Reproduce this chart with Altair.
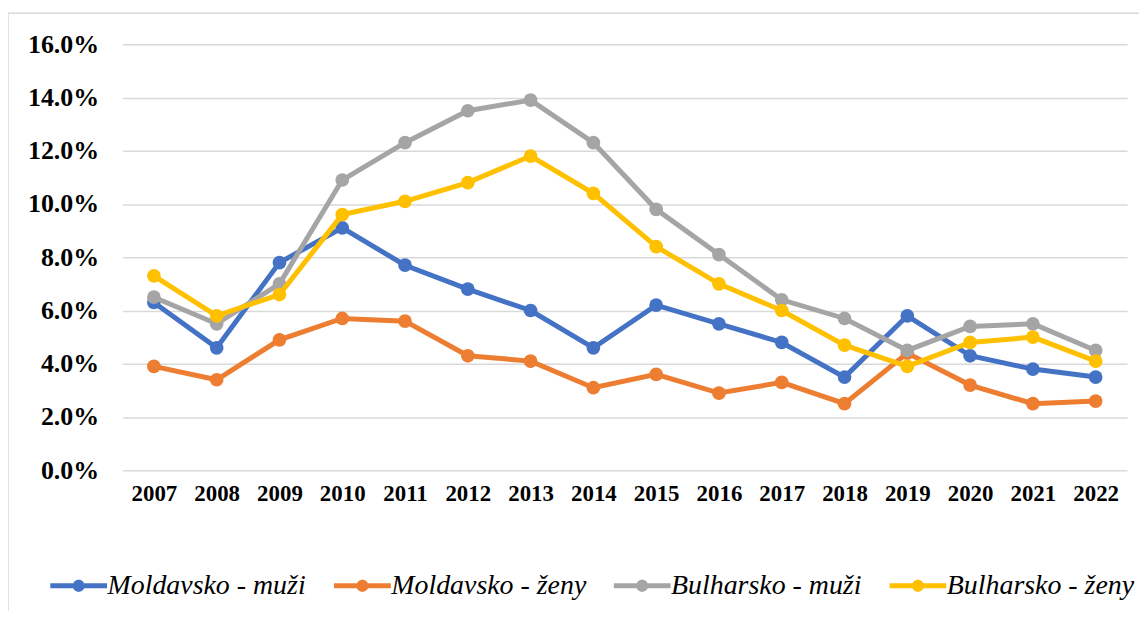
import altair as alt
import pandas as pd

years = [str(y) for y in range(2007, 2023)]
series_names = ["Moldavsko - muži", "Moldavsko - ženy", "Bulharsko - muži", "Bulharsko - ženy"]
colors = ["#4472C4", "#ED7D31", "#A5A5A5", "#FFC000"]

moldavsko_muzi = [6.3, 4.6, 7.8, 9.1, 7.7, 6.8, 6.0, 4.6, 6.2, 5.5, 4.8, 3.5, 5.8, 4.3, 3.8, 3.5]
moldavsko_zeny = [3.9, 3.4, 4.9, 5.7, 5.6, 4.3, 4.1, 3.1, 3.6, 2.9, 3.3, 2.5, 4.4, 3.2, 2.5, 2.6]
bulharsko_muzi = [6.5, 5.5, 7.0, 10.9, 12.3, 13.5, 13.9, 12.3, 9.8, 8.1, 6.4, 5.7, 4.5, 5.4, 5.5, 4.5]
bulharsko_zeny = [7.3, 5.8, 6.6, 9.6, 10.1, 10.8, 11.8, 10.4, 8.4, 7.0, 6.0, 4.7, 3.9, 4.8, 5.0, 4.1]

all_values = [moldavsko_muzi, moldavsko_zeny, bulharsko_muzi, bulharsko_zeny]
rows = []
for name, vals in zip(series_names, all_values):
    for y, v in zip(years, vals):
        rows.append({"year": y, "value": v, "series": name})
df = pd.DataFrame(rows)

FONT = "'Liberation Serif', 'Times New Roman', Times, serif"

color_scale = alt.Scale(domain=series_names, range=colors)
x_enc = alt.X("year:O", scale=alt.Scale(padding=0.5), title=None,
              axis=alt.Axis(labelAngle=0, domain=False, ticks=False, grid=False,
                            labelFont=FONT, labelFontWeight="bold",
                            labelFontSize=23, labelColor="#000000", labelPadding=12))
y_enc = alt.Y("value:Q", scale=alt.Scale(domain=[0, 16]), title=None,
              axis=alt.Axis(values=[0, 2, 4, 6, 8, 10, 12, 14, 16],
                            labelExpr="format(datum.value, '.1f') + '%'",
                            domain=False, ticks=False, grid=True,
                            gridColor="#D9D9D9", gridWidth=1.5,
                            labelFont=FONT, labelFontWeight="bold",
                            labelFontSize=26, labelColor="#000000", labelPadding=24))

legend_symbol = ("M-1.5,-0.13 L-0.3,-0.13 L-0.3,0.13 L-1.5,0.13 Z "
                 "M0.3,-0.13 L1.5,-0.13 L1.5,0.13 L0.3,0.13 Z "
                 "M-0.32,0 A0.32,0.32 0 1,1 0.32,0 A0.32,0.32 0 1,1 -0.32,0 Z")

leg = alt.Legend(title=None, orient="none", direction="horizontal",
                 legendX=-63, legendY=525,
                 symbolType=legend_symbol, symbolSize=1444,
                 symbolStrokeWidth=0, symbolOpacity=1,
                 labelFont=FONT, labelFontStyle="italic",
                 labelFontSize=28, labelColor="#000000",
                 labelOffset=10, columnPadding=27, labelLimit=400,
                 padding=0)

border = alt.Chart(pd.DataFrame({"a": [0]})).mark_rect(
    fill=None, stroke="#D9D9D9", strokeWidth=1.5
).encode(x=alt.value(-115), x2=alt.value(1100), y=alt.value(-31), y2=alt.value(700))

layers = [border]
for i, name in enumerate(series_names):
    sub = df[df["series"] == name]
    base = alt.Chart(sub)
    line = base.mark_line(strokeWidth=5).encode(
        x=x_enc, y=y_enc,
        color=alt.Color("series:N", scale=color_scale, legend=leg))
    pts = base.mark_point(filled=True, size=190, opacity=1).encode(
        x=x_enc, y=y_enc,
        color=alt.Color("series:N", scale=color_scale, legend=leg))
    layers += [line, pts]

chart = alt.layer(*layers).properties(
    width=1009, height=428,
    autosize=alt.AutoSizeParams(type="none"),
    padding={"left": 115, "top": 35, "right": 12, "bottom": 140},
).configure_view(stroke=None)

chart.save("out.html", embed_options={"renderer": "svg", "actions": False})
